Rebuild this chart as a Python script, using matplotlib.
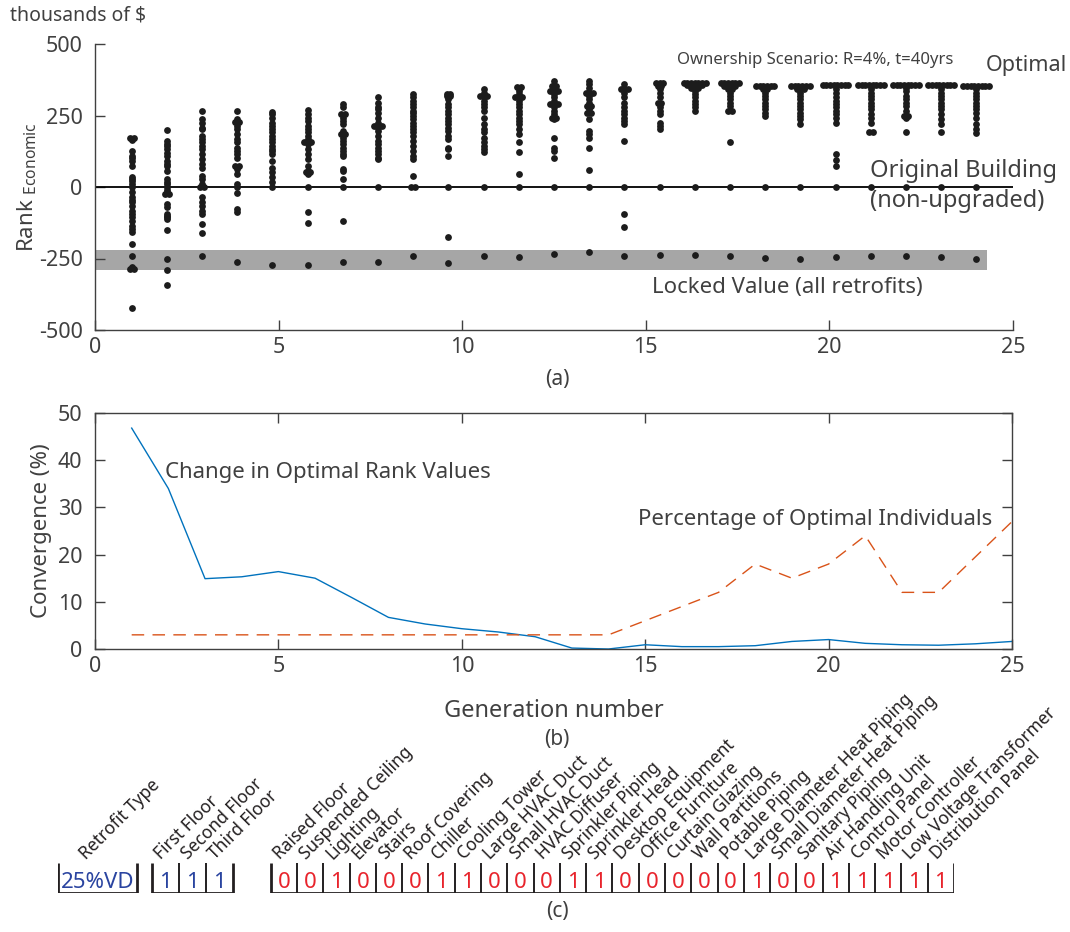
import numpy as np
import matplotlib
matplotlib.use('Agg')
import matplotlib.pyplot as plt

plt.rcParams['font.family'] = ['Noto Sans', 'DejaVu Sans']
plt.rcParams['mathtext.fontset'] = 'custom'
plt.rcParams['mathtext.rm'] = 'Noto Sans'
plt.rcParams['mathtext.it'] = 'Noto Sans'
plt.rcParams['axes.unicode_minus'] = False

GRAY = '#404040'
DOT = '#1c1c1c'
BLUE = '#0072BD'
ORANGE = '#D95319'
BOX = '#231f20'
RED = '#e8242c'
NAVY = '#2a44a0'

# rank of every individual per generation (thousands of $)
g01 = [170, 170, 165, 127, 110, 103, 92, 74, 34, 28, 22, 10, 0, -19, -36, -45, -54, -65, -83,
       -94, -106, -118, -135, -147, -158, -199, -240, -280, -286, -286, -424]
g02 = [199, 162, 150, 144, 133, 120, 109, 92, 80, 74, 57, 28, 18, 10, 0, -10, -19, -25, -25,
       -59, -71, -94, -100, -106, -112, -152, -251, -289, -341]
g03 = [266, 237, 225, 208, 202, 179, 167, 156, 144, 133, 115, 98, 80, 68, 39, 28, 10, 0, 0,
       -36, -54, -65, -83, -94, -129, -160, -240]
g04 = [266, 237, 228, 228, 214, 202, 185, 167, 156, 138, 127, 115, 103, 74, 74, 63, 45, 10, 0,
       -21, -77, -89, -263]
g05 = [263, 255, 243, 225, 214, 202, 191, 179, 167, 156, 144, 133, 127, 115, 92, 68, 51, 34, 16,
       0, -272]
g06 = [270, 255, 243, 231, 214, 202, 191, 179, 167, 156, 156, 156, 150, 133, 115, 98, 74, 57,
       51, 51, 45, 0, -86, -127, -272]
g07 = [290, 278, 255, 255, 243, 231, 220, 196, 185, 185, 173, 162, 150, 138, 127, 115, 109, 63,
       57, 28, 0, -118, -263]
g08 = [313, 295, 278, 272, 260, 243, 225, 214, 214, 214, 208, 196, 179, 162, 150, 138, 127, 115,
       103, 98, 0, -263]
g09 = [324, 313, 301, 290, 278, 266, 260, 249, 237, 225, 214, 202, 191, 179, 162, 144, 127, 109,
       98, 39, 0, 0, -243]
g10 = [324, 324, 318, 318, 309, 290, 278, 266, 255, 243, 231, 220, 208, 196, 179, 167, 138, 133,
       109, 0, -176, -265]
g11 = [342, 330, 318, 318, 318, 313, 301, 290, 278, 266, 243, 220, 202, 191, 173, 156, 144, 133,
       121, 0, -240]
g12 = [350, 350, 336, 324, 313, 313, 313, 301, 290, 278, 266, 255, 243, 231, 220, 202, 185, 156,
       121, 45, 0, -246]
g13 = [371, 353, 353, 336, 336, 336, 324, 313, 301, 290, 290, 290, 278, 266, 255, 243, 243, 237,
       173, 138, 127, 101, 0, -234]
g14 = [371, 359, 347, 330, 330, 330, 318, 307, 295, 284, 284, 272, 260, 260, 237, 196, 185, 173,
       136, 59, 0, -228]
g15 = [359, 342, 342, 342, 330, 313, 295, 278, 266, 255, 243, 231, 220, 162, 0, -94, -139, -240]
g16 = [362, 362, 362, 353, 353, 342, 330, 313, 295, 295, 290, 278, 266, 255, 225, 214, 202, 0,
       -238]
g17 = [365] * 7 + [358] * 5 + [347] * 3 + [336, 324, 313, 301, 290, 278, 266, 0, -239]
g18 = [362] * 6 + [353] * 4 + [342, 342, 330, 318, 307, 295, 284, 266, 266, 156, 0, -240]
g19 = [353] * 6 + [342, 342, 330, 318, 307, 295, 284, 272, 260, 249, 0, -248]
g20 = [353] * 6 + [342] * 3 + [330, 318, 307, 295, 284, 272, 260, 249, 237, 220, 0, -251]
g21 = [357] * 8 + [342, 330, 313, 301, 290, 278, 266, 255, 243, 225, 115, 94, 74, 0, -246]
g22 = [357] * 8 + [342, 330, 318, 307, 295, 284, 272, 255, 243, 225, 191, 191, 0, -243]
g23 = [357] * 8 + [347, 336, 318, 307, 295, 284, 266, 249, 249, 243, 191, 0, -242]
g24 = [357] * 8 + [342, 330, 318, 307, 295, 284, 272, 255, 237, 220, 191, 0, -246]
g25 = [353] * 8 + [342, 330, 318, 307, 295, 284, 272, 260, 243, 220, 202, 190, 0, -251]
rank_values = [g01, g02, g03, g04, g05, g06, g07, g08, g09, g10, g11, g12, g13,
               g14, g15, g16, g17, g18, g19, g20, g21, g22, g23, g24, g25]
locked_band = (-290, -220)

# convergence history
generation = np.arange(1, 26)
rank_change = [46.8, 34.0, 14.9, 15.3, 16.4, 15.0, 10.9, 6.7, 5.3, 4.3, 3.6, 2.6, 0.2,
               0.0, 0.9, 0.5, 0.5, 0.7, 1.6, 2.0, 1.2, 0.9, 0.8, 1.1, 1.6]
optimal_pct = [3, 3, 3, 3, 3, 3, 3, 3, 3, 3, 3, 3, 3, 3,
               6, 9, 12, 18, 15, 18, 24, 12, 12, 19.5, 27]

# optimal chromosome
retrofit_type = '25%VD'
floor_labels = ['First Floor', 'Second Floor', 'Third Floor']
floor_bits = [1, 1, 1]
component_labels = ['Raised Floor', 'Suspended Ceiling', 'Lighting', 'Elevator', 'Stairs',
                    'Roof Covering', 'Chiller', 'Cooling Tower', 'Large HVAC Duct',
                    'Small HVAC Duct', 'HVAC Diffuser', 'Sprinkler Piping', 'Sprinkler Head',
                    'Desktop Equipment', 'Office Furniture', 'Curtain Glazing',
                    'Wall Partitions', 'Potable Piping', 'Large Diameter Heat Piping',
                    'Small Diameter Heat Piping', 'Sanitary Piping', 'Air Handling Unit',
                    'Control Panel', 'Motor Controller', 'Low Voltage Transformer',
                    'Distribution Panel']
component_bits = [0, 0, 1, 0, 0, 0, 1, 1, 0, 0, 0, 1, 1, 0, 0, 0, 0, 0, 1, 0, 0, 1, 1, 1, 1, 1]

SWARM_DX = 0.1
TICK_FS = 15.5


def swarm(x0, vals):
    # spread repeated values sideways so stacked points stay visible
    xs, ys = [], []
    vals = np.asarray(vals, dtype=float)
    for v in np.unique(vals):
        n = int((vals == v).sum())
        off = (np.arange(n) - (n - 1) / 2.0) * SWARM_DX
        xs.extend(x0 + off)
        ys.extend([v] * n)
    return xs, ys


def style_axis(ax):
    for s in ax.spines.values():
        s.set_color(GRAY)
        s.set_linewidth(1.0)
    ax.tick_params(direction='in', length=7, width=1.0, color=GRAY,
                   labelcolor=GRAY, labelsize=TICK_FS)
    ax.tick_params(axis='y', pad=9)
    ax.tick_params(axis='x', pad=5)


def draw_group(ax, x0, widths):
    edges = x0 + np.concatenate([[0], np.cumsum(widths)])
    for e in edges[1:-1]:
        ax.plot([e, e], [0, 1], color=BOX, lw=1.4, solid_capstyle='butt')
    ax.plot([edges[0], edges[0], edges[-1], edges[-1]], [1, 0, 0, 1], color=BOX, lw=2.0,
            solid_joinstyle='miter', solid_capstyle='butt')
    return edges


fig = plt.figure(figsize=(10.7, 9.32), dpi=100)

# ---- (a) rank of individuals per generation
ax1 = fig.add_axes([95 / 1070, 1 - 330 / 932, 918 / 1070, 286 / 932])
gen_pos = np.linspace(1, 24, len(rank_values))
ax1.fill_between([0, 24.3], locked_band[0], locked_band[1], color='#a6a6a6', lw=0, zorder=1)
ax1.axhline(0, color='k', lw=1.3, zorder=2)
for x0, vals in zip(gen_pos, rank_values):
    xs, ys = swarm(x0, vals)
    ax1.scatter(xs, ys, s=24, color=DOT, linewidths=0, zorder=3)
ax1.set_xlim(0, 25)
ax1.set_ylim(-500, 500)
ax1.set_xticks([0, 5, 10, 15, 20, 25])
ax1.set_yticks([-500, -250, 0, 250, 500])
style_axis(ax1)
ax1.spines['top'].set_visible(False)
ax1.spines['right'].set_visible(False)
ax1.set_ylabel(r'Rank $_{\mathrm{Economic}}$', fontsize=16, color=GRAY, labelpad=0)
ax1.text(19.6, 444, 'Ownership Scenario: R=4%, t=40yrs', fontsize=12, color=GRAY,
         ha='center', va='center')
ax1.text(24.25, 426, 'Optimal', fontsize=15.5, color=GRAY, ha='left', va='center',
         clip_on=False)
ax1.text(21.1, 57, 'Original Building', fontsize=17, color=GRAY, ha='left', va='center',
         clip_on=False)
ax1.text(21.1, -48, '(non-upgraded)', fontsize=17, color=GRAY, ha='left', va='center',
         clip_on=False)
ax1.text(18.85, -351, 'Locked Value (all retrofits)', fontsize=16, color=GRAY, ha='center',
         va='center')
fig.text(10 / 1070, 1 - 16 / 932, 'thousands of $', fontsize=14, color=GRAY, ha='left',
         va='center')
fig.text(557 / 1070, 1 - 380 / 932, '(a)', fontsize=15, color=GRAY, ha='center', va='center')

# ---- (b) convergence
ax2 = fig.add_axes([95 / 1070, 1 - 649 / 932, 917 / 1070, 236 / 932])
ax2.plot(generation, rank_change, color=BLUE, lw=1.0)
ax2.plot(generation, optimal_pct, color=ORANGE, lw=1.0, dashes=(9, 6))
ax2.set_xlim(0, 25)
ax2.set_ylim(0, 50)
ax2.set_xticks([0, 5, 10, 15, 20, 25])
ax2.set_yticks([0, 10, 20, 30, 40, 50])
style_axis(ax2)
ax2.tick_params(top=True, right=True)
ax2.set_xlabel('Generation number', fontsize=17, color=GRAY, labelpad=16)
ax2.set_ylabel('Convergence (%)', fontsize=16, color=GRAY, labelpad=4)
ax2.text(1.91, 37.3, 'Change in Optimal Rank Values', fontsize=16, color=GRAY, ha='left',
         va='center')
ax2.text(14.8, 27.5, 'Percentage of Optimal Individuals', fontsize=16, color=GRAY, ha='left',
         va='center')
fig.text(557 / 1070, 1 - 740 / 932, '(b)', fontsize=15, color=GRAY, ha='center', va='center')

# ---- (c) optimal chromosome
ax3 = fig.add_axes([58 / 1070, 1 - 893 / 932, 896 / 1070, 30 / 932])
ax3.set_xlim(0, 34.1)
ax3.set_ylim(0, 1)
ax3.axis('off')

LABEL_FS = 12.5
DIGIT_FS = 16
e = draw_group(ax3, 0.0, [3.0])
ax3.text(1.5, 0.18, retrofit_type, fontsize=DIGIT_FS, color=NAVY, ha='center', va='baseline')
ax3.text(1.07, 1.1, 'Retrofit Type', fontsize=LABEL_FS, color=BOX, rotation=45,
         rotation_mode='anchor', ha='left', va='baseline', clip_on=False)

e = draw_group(ax3, 3.58, [1.03] * len(floor_bits))
for i, (lab, b) in enumerate(zip(floor_labels, floor_bits)):
    ax3.text((e[i] + e[i + 1]) / 2, 0.18, str(b), fontsize=DIGIT_FS, color=NAVY,
             ha='center', va='baseline')
    ax3.text(e[i] + 0.35, 1.1, lab, fontsize=LABEL_FS, color=BOX, rotation=45,
             rotation_mode='anchor', ha='left', va='baseline', clip_on=False)

e = draw_group(ax3, 8.1, [1.0] * len(component_bits))
for i, (lab, b) in enumerate(zip(component_labels, component_bits)):
    ax3.text((e[i] + e[i + 1]) / 2, 0.18, str(b), fontsize=DIGIT_FS, color=RED,
             ha='center', va='baseline')
    ax3.text(e[i] + 0.35, 1.1, lab, fontsize=LABEL_FS, color=BOX, rotation=45,
             rotation_mode='anchor', ha='left', va='baseline', clip_on=False)
fig.text(557 / 1070, 1 - 912 / 932, '(c)', fontsize=15, color=GRAY, ha='center', va='center')

fig.savefig('out.png', dpi=100)
